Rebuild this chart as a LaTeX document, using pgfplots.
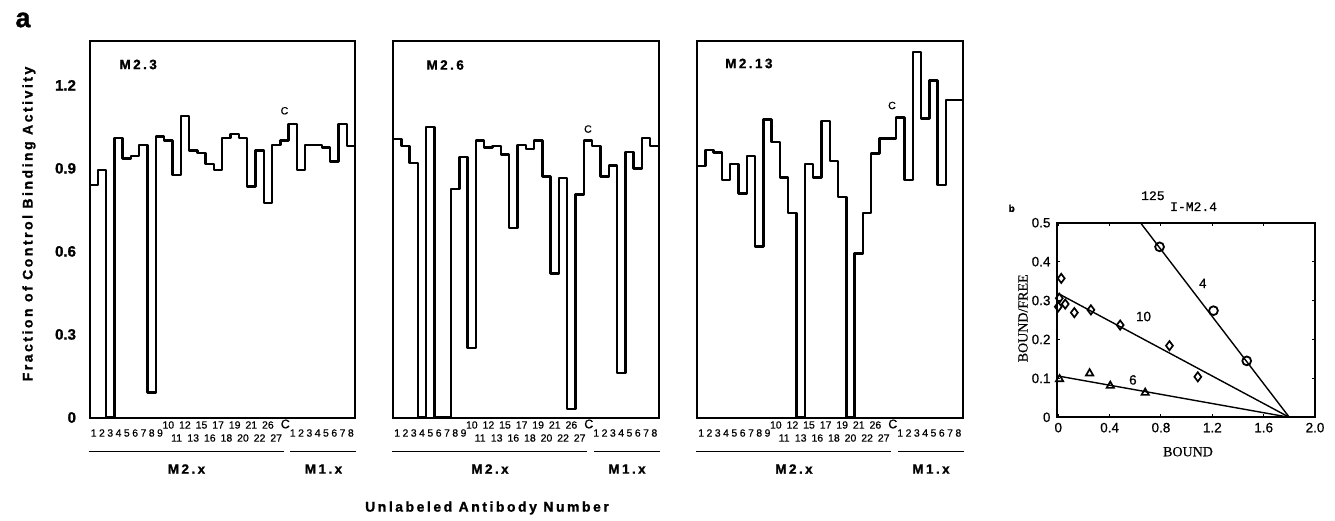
\documentclass[border=0pt]{standalone}
\usepackage{pgfplots}
\pgfplotsset{compat=1.18}
\usepackage{fontspec}
\setmainfont{Liberation Sans}
\newfontfamily\lsb[LetterSpace=18, FakeBold=1.2]{Liberation Sans Bold}
\newfontfamily\lsbn[FakeBold=1.2]{Liberation Sans Bold}
\newfontfamily\sml[FakeBold=0.6]{Liberation Sans}
\newfontfamily\srf[FakeBold=0.5]{Liberation Serif}
\newfontfamily\mno[FakeBold=0.8]{Liberation Mono}
\newcommand\fs[1]{\fontsize{#1}{#1}\selectfont}

\newcommand\panellabels[1]{%
  \foreach \i in {1,...,9} \node[font=\sml\fs{10.5}] at ({#1pt+(\i-0.5)*8.297pt},87pt) {\i};
  \foreach \b/\t in {9/10,11/12,13/15,15/17,17/19,19/21,21/26} \node[font=\sml\fs{10.5}] at ({#1pt+(\b+0.5)*8.297pt},95pt) {\t};
  \foreach \b/\t in {10/11,12/13,14/16,16/18,18/20,20/22,22/27} \node[font=\sml\fs{10.5}] at ({#1pt+(\b+0.5)*8.297pt},82pt) {\t};
  \node[font=\sml\fs{12.5}] at ({#1pt+23.6*8.297pt},96pt) {C};
  \foreach \i in {1,...,8} \node[font=\sml\fs{10.5}] at ({#1pt+(\i+23.5)*8.297pt},87pt) {\i};
  \draw[line width=1.4pt] ({#1pt-1pt},68.5pt) -- ({#1pt+24*8.297pt-5pt},68.5pt);
  \draw[line width=1.4pt] ({#1pt+24*8.297pt+1.5pt},68.5pt) -- ({#1pt+266.5pt},68.5pt);
  \node[font=\lsb\fs{13.5}] at ({#1pt+97pt},51pt) {M2.x};
  \node[font=\lsb\fs{13.5}] at ({#1pt+234pt},51pt) {M1.x};
}

\begin{document}
\begin{tikzpicture}
\useasboundingbox (0pt,0pt) rectangle (1335pt,520pt);
\pgfplotsset{
  panelA/.style={
    anchor=south west, scale only axis, width=265.5pt, height=376.5pt,
    xmin=0, xmax=32, ymin=0, ymax=1.36,
    xtick=\empty, ytick=\empty, axis line style={line width=2pt, line cap=rect},
    clip=false,
  },
  trace/.style={const plot, line width=2.4pt, line join=round, black, mark=none},
}
% ---------- panel M2.3
\begin{axis}[panelA, at={(89.5pt,102.5pt)},
  ytick={0,0.3,0.6,0.9,1.2}, major tick length=0pt,
  /pgf/number format/assume math mode=true,
  yticklabel style={anchor=east, xshift=-10pt, font=\lsbn\fs{15}}]
\addplot[trace] coordinates {(0,0.84)(1,0.895)(2,0)(3,1.01)(4,0.935)(5,0.945)(6,0.985)(7,0.09)(8,1.015)(9,1.0)(10,0.875)(11,1.09)(12,0.965)(13,0.955)(14,0.915)(15,0.895)(16,1.01)(17,1.025)(18,1.01)(19,0.835)(20,0.965)(21,0.775)(22,0.985)(23,1.0)(24,1.06)(25,0.895)(26,0.985)(27,0.985)(28,0.975)(29,0.925)(30,1.06)(31,0.98)(32,0.98)};
\node[font=\sml\fs{10.5}] at (axis cs:23.5,1.108) {C};
\end{axis}
% ---------- panel M2.6
\begin{axis}[panelA, at={(393pt,102.5pt)}]
\addplot[trace] coordinates {(0,1.005)(1,0.98)(2,0.92)(3,0)(4,1.05)(5,0)(6,0)(7,0.825)(8,0.94)(9,0.25)(10,1.0)(11,0.975)(12,0.98)(13,0.95)(14,0.685)(15,0.985)(16,0.97)(17,1.0)(18,0.87)(19,0.52)(20,0.865)(21,0.03)(22,0.805)(23,1.0)(24,0.98)(25,0.87)(26,0.91)(27,0.16)(28,0.96)(29,0.9)(30,1.01)(31,0.98)(32,0.98)};
\node[font=\sml\fs{10.5}] at (axis cs:23.5,1.042) {C};
\end{axis}
% ---------- panel M2.13
\begin{axis}[panelA, at={(697pt,102.5pt)}]
\addplot[trace] coordinates {(0,0.908)(1,0.966)(2,0.957)(3,0.857)(4,0.915)(5,0.809)(6,0.944)(7,0.617)(8,1.077)(9,0.996)(10,0.867)(11,0.739)(12,0)(13,0.915)(14,0.867)(15,1.07)(16,0.926)(17,0.797)(18,0)(19,0.593)(20,0.739)(21,0.954)(22,1.008)(23,1.008)(24,1.084)(25,0.857)(26,1.321)(27,1.08)(28,1.218)(29,0.839)(30,1.146)(31,1.146)(32,1.146)};
\node[font=\sml\fs{10.5}] at (axis cs:23.5,1.127) {C};
\end{axis}
% ---------- panel b
\begin{axis}[at={(1057pt,102.7pt)}, anchor=south west, scale only axis,
  width=258pt, height=194.6pt, xmin=-0.01, xmax=2.0, ymin=0, ymax=0.5,
  xtick={0,0.4,0.8,1.2,1.6,2.0}, xticklabels={0,0.4,0.8,1.2,1.6,2.0},
  ytick={0,0.1,0.2,0.3,0.4,0.5}, yticklabels={0,0.1,0.2,0.3,0.4,0.5},
  tick align=inside, major tick length=3pt, tick style={line width=1pt, black},
  axis line style={line width=1.8pt, line cap=rect},
  ticklabel style={font=\sml\fs{13.5}},
  yticklabel style={xshift=-3pt}, xticklabel style={yshift=-2pt},
  clip=false]
\addplot[black, line width=1.4pt] coordinates {(0.64,0.5)(1.80,0)};
\addplot[black, line width=1.4pt] coordinates {(0,0.318)(1.80,0)};
\addplot[black, line width=1.4pt] coordinates {(0,0.106)(1.80,0)};
\addplot[only marks, mark=o, mark size=4.4pt, mark options={line width=1.8pt, fill=white}] coordinates {(0.789,0.438)(1.209,0.274)(1.468,0.145)};
\addplot[only marks, mark=diamond, mark size=4.6pt, mark options={line width=1.7pt, fill=white}] coordinates {(0.023,0.357)(0.008,0.306)(0.0,0.284)(0.054,0.291)(0.125,0.269)(0.254,0.276)(0.482,0.237)(0.866,0.184)(1.087,0.104)};
\addplot[only marks, mark=triangle, mark size=4.2pt, mark options={line width=1.7pt, fill=white}] coordinates {(0.01,0.098)(0.244,0.113)(0.405,0.081)(0.677,0.063)};
\node[font=\sml\fs{13.5}] at (axis cs:1.126,0.344) {4};
\node[font=\sml\fs{13.5}] at (axis cs:0.664,0.259) {10};
\node[font=\sml\fs{13.5}] at (axis cs:0.581,0.096) {6};
\end{axis}

% ---------- texts outside axes
\node[font=\lsbn\fs{27}] at (23pt,500pt) {a};
\node[rotate=90, font=\lsb\fs{14}] at (29pt,296pt) {Fraction of Control Binding Activity};
\node[font=\lsb\fs{14}] at (487pt,12pt) {Unlabeled Antibody Number};
\node[anchor=west, font=\lsb\fs{13.5}] at (116pt,455.5pt) {M2.3};
\node[anchor=west, font=\lsb\fs{13.5}] at (423pt,455pt) {M2.6};
\node[anchor=west, font=\lsb\fs{13.5}] at (721.7pt,456.5pt) {M2.13};
\panellabels{89.5}
\panellabels{393}
\panellabels{697}

\node[font=\lsbn\fs{10}] at (1011.7pt,311.7pt) {b};
\node[anchor=base west, inner sep=0pt, font=\mno\fs{13}] at (1141pt,320pt) {125};
\node[anchor=base west, inner sep=0pt, font=\mno\fs{13}] at (1170pt,309pt) {I-M2.4};
\node[rotate=90, font=\srf\fs{14}] at (1023pt,201.7pt) {BOUND/FREE};
\node[font=\srf\fs{14}] at (1188pt,68.3pt) {BOUND};
\end{tikzpicture}
\end{document}
